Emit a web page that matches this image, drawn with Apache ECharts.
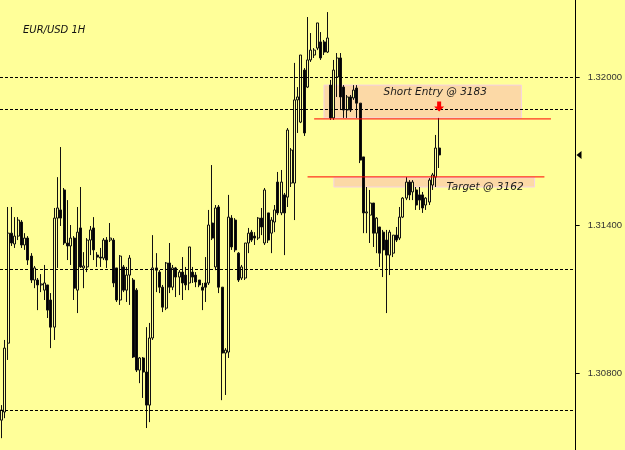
<!DOCTYPE html>
<html>
<head>
<meta charset="utf-8">
<script src="https://cdn.jsdelivr.net/npm/echarts@6/dist/echarts.min.js"></script>
<style>
html, body { margin: 0; padding: 0; background: #FFFF99; }
#chartmain { width: 625px; height: 450px; }
</style>
</head>
<body>
<div id="chartmain"></div>
<script>
// EUR/USD 1H, prices in pips of 1.xxxx (3183 = 1.3183)
var opens = [3060.9, 3064.2, 3092.1, 3136.7, 3132.3, 3135.5, 3141.2, 3131.9, 3134.7, 3127.4,
    3117.7, 3117.7, 3115.7, 3113.6, 3115.7, 3109.6, 3098.6, 3142.8, 3146.1, 3154.2,
    3132.7, 3131.5, 3134.7, 3113.6, 3138.8, 3122.6, 3123.0, 3133.9, 3138.8, 3127.8,
    3127.0, 3126.6, 3133.9, 3133.9, 3133.9, 3122.6, 3109.6, 3123.0, 3113.6, 3119.7,
    3117.7, 3113.6, 3081.2, 3086.1, 3080.4, 3067.0, 3094.2, 3122.6, 3120.9, 3114.8,
    3106.3, 3124.6, 3114.8, 3122.6, 3118.9, 3120.9, 3119.7, 3116.5, 3120.9, 3119.7,
    3117.7, 3114.8, 3116.5, 3116.5, 3140.8, 3123.0, 3147.3, 3114.8, 3088.1, 3088.5,
    3142.8, 3142.0, 3128.6, 3118.5, 3118.5, 3132.7, 3137.1, 3135.5, 3134.7, 3142.8,
    3132.7, 3144.9, 3136.7, 3141.2, 3157.4, 3144.9, 3152.2, 3151.3, 3157.0, 3157.0,
    3190.7, 3181.7, 3202.8, 3195.9, 3206.9, 3208.9, 3211.7, 3214.2, 3214.2, 3210.1,
    3196.7, 3183.4, 3200.0, 3207.7, 3195.9, 3186.6, 3191.9, 3191.5, 3195.5, 3189.4,
    3167.6, 3144.9, 3144.0, 3148.9, 3136.7, 3139.2, 3137.1, 3133.9, 3127.8, 3128.6,
    3135.9, 3134.7, 3143.2, 3150.9, 3157.4, 3153.4, 3154.2, 3152.2, 3152.2, 3148.1,
    3149.3, 3156.2, 3159.4, 3171.2];
var closes = [3065.0, 3090.1, 3136.7, 3132.7, 3135.5, 3142.0, 3131.9, 3134.7, 3125.8, 3117.7,
    3122.6, 3115.7, 3116.1, 3116.5, 3105.5, 3098.6, 3142.8, 3146.9, 3142.8, 3132.7,
    3131.5, 3134.7, 3114.4, 3137.1, 3123.0, 3123.4, 3133.9, 3138.0, 3129.9, 3127.0,
    3126.6, 3133.9, 3125.8, 3134.7, 3116.5, 3109.6, 3127.4, 3113.6, 3119.7, 3126.6,
    3086.5, 3081.2, 3086.1, 3080.4, 3067.0, 3094.2, 3122.6, 3121.7, 3114.8, 3106.7,
    3124.6, 3114.8, 3122.6, 3118.9, 3120.9, 3116.5, 3115.7, 3131.1, 3118.9, 3116.9,
    3115.7, 3113.6, 3114.8, 3140.0, 3134.7, 3146.9, 3114.8, 3088.1, 3089.3, 3143.2,
    3131.1, 3129.9, 3117.7, 3123.0, 3132.7, 3136.7, 3133.9, 3134.7, 3142.8, 3139.2,
    3154.2, 3133.9, 3142.0, 3146.1, 3144.9, 3157.4, 3144.9, 3178.5, 3170.4, 3190.7,
    3191.9, 3208.9, 3177.3, 3206.9, 3210.9, 3210.9, 3221.9, 3207.7, 3210.1, 3215.8,
    3183.4, 3202.8, 3207.7, 3191.9, 3186.6, 3191.9, 3186.6, 3194.7, 3189.4, 3166.3,
    3144.9, 3145.3, 3148.9, 3136.7, 3142.8, 3128.6, 3129.9, 3127.8, 3137.1, 3135.9,
    3133.9, 3143.2, 3150.9, 3157.4, 3152.2, 3157.4, 3148.1, 3150.1, 3146.9, 3150.9,
    3158.2, 3160.3, 3171.2, 3168.4];
var lows = [3053.6, 3061.7, 3085.3, 3131.5, 3130.7, 3133.9, 3130.7, 3129.9, 3123.8, 3116.5,
    3114.4, 3105.5, 3112.8, 3109.6, 3102.3, 3090.1, 3093.4, 3122.6, 3139.6, 3131.9,
    3125.8, 3123.8, 3109.6, 3104.3, 3122.6, 3114.4, 3120.9, 3127.8, 3125.8, 3123.0,
    3123.0, 3125.8, 3122.6, 3133.1, 3114.8, 3108.8, 3107.6, 3112.8, 3108.8, 3107.6,
    3086.1, 3080.4, 3075.9, 3069.9, 3057.7, 3060.1, 3093.4, 3112.8, 3112.4, 3104.7,
    3105.5, 3112.4, 3113.6, 3110.8, 3111.6, 3109.6, 3113.6, 3113.6, 3116.5, 3114.8,
    3114.8, 3105.5, 3108.8, 3115.7, 3133.9, 3121.7, 3112.4, 3069.0, 3071.1, 3086.1,
    3129.9, 3129.0, 3116.9, 3117.7, 3117.7, 3128.6, 3133.1, 3131.9, 3133.9, 3135.9,
    3131.9, 3132.7, 3128.6, 3137.1, 3144.0, 3144.0, 3127.8, 3147.3, 3155.4, 3142.0,
    3177.3, 3181.3, 3176.1, 3195.5, 3206.1, 3207.7, 3210.9, 3206.9, 3208.9, 3209.7,
    3182.6, 3182.6, 3191.9, 3186.6, 3183.4, 3183.4, 3185.8, 3190.7, 3183.4, 3165.1,
    3136.7, 3136.7, 3132.7, 3131.1, 3128.6, 3123.0, 3118.9, 3104.3, 3119.7, 3127.0,
    3133.1, 3133.9, 3142.8, 3150.1, 3150.1, 3150.1, 3146.1, 3146.1, 3144.9, 3146.1,
    3148.1, 3154.2, 3155.4, 3163.1];
var highs = [3067.0, 3093.4, 3147.3, 3147.3, 3143.2, 3143.2, 3142.0, 3136.7, 3135.5, 3128.6,
    3123.4, 3118.5, 3120.1, 3123.8, 3115.7, 3112.4, 3146.9, 3159.4, 3171.6, 3155.0,
    3150.1, 3140.0, 3135.5, 3147.3, 3155.4, 3129.0, 3134.7, 3139.6, 3143.2, 3129.0,
    3130.7, 3134.7, 3135.1, 3140.8, 3134.7, 3122.6, 3127.8, 3123.8, 3123.0, 3127.8,
    3118.5, 3114.4, 3086.5, 3086.5, 3098.6, 3100.3, 3135.9, 3128.6, 3121.7, 3115.7,
    3125.0, 3132.7, 3123.8, 3123.0, 3121.7, 3127.0, 3123.0, 3131.1, 3123.0, 3120.9,
    3117.7, 3116.5, 3127.0, 3146.1, 3164.3, 3148.1, 3148.1, 3114.8, 3090.1, 3152.2,
    3144.0, 3142.8, 3129.0, 3123.8, 3132.7, 3138.8, 3138.0, 3137.1, 3143.2, 3146.9,
    3155.0, 3144.9, 3143.2, 3148.1, 3161.5, 3162.3, 3153.0, 3179.3, 3171.2, 3205.7,
    3195.9, 3208.9, 3203.6, 3224.3, 3217.8, 3211.7, 3221.9, 3218.2, 3215.0, 3226.3,
    3198.8, 3206.9, 3209.7, 3209.7, 3196.7, 3192.7, 3192.7, 3196.7, 3196.7, 3189.4,
    3167.6, 3155.4, 3154.2, 3148.9, 3143.2, 3139.2, 3138.0, 3138.0, 3138.0, 3135.9,
    3139.2, 3147.3, 3151.3, 3159.4, 3158.2, 3158.2, 3155.4, 3155.4, 3153.4, 3151.3,
    3159.0, 3161.1, 3176.5, 3183.4];

// horizontal levels
var dottedLevels = [3200.0, 3187.0, 3122.0, 3065.0];
var entryLevel = 3183;
var targetLevel = 3159.5;
var axisTicks = [3080, 3140, 3200];
var slotCount = 175;   // visible bar slots incl. empty space on the right

function setChartMain() {
    var categories = [];
    for (var i = 0; i < slotCount; i++) {
        categories.push(i);
    }
    var candles = opens.map(function (o, i) {
        return [o, closes[i], lows[i], highs[i]];
    });
    var last = opens.length - 1;

    var labelFont = { fontFamily: 'DejaVu Sans', fontStyle: 'italic', fontSize: 10.5, color: '#1a1a1a' };

    // red horizontal trade lines, drawn as plain line series
    function tradeLine(level, from, to) {
        return {
            type: 'line',
            data: [[from, level], [to, level]],
            symbol: 'none',
            silent: true,
            z: 4,
            itemStyle: { color: '#FF0000' },
            lineStyle: { color: '#FF0000', width: 1 }
        };
    }

    var option = {
        backgroundColor: '#FFFF99',
        animation: false,
        title: {
            text: 'EUR/USD 1H',
            left: 18,
            top: 20,
            textStyle: { fontFamily: 'DejaVu Sans', fontStyle: 'italic', fontWeight: 'normal', fontSize: 10, color: '#111' }
        },
        grid: { left: 0, right: 49, top: 0, bottom: 0 },
        xAxis: {
            type: 'category',
            data: categories,
            boundaryGap: true,
            axisLine: { show: false },
            axisTick: { show: false },
            axisLabel: { show: false },
            splitLine: { show: false }
        },
        yAxis: {
            type: 'value',
            position: 'right',
            min: 3048.8,
            max: 3231.2,
            axisLine: { show: true, lineStyle: { color: '#000', width: 1 } },
            axisTick: { show: true, customValues: axisTicks, length: 4, lineStyle: { color: '#000' } },
            axisLabel: {
                customValues: axisTicks,
                margin: 12,
                fontFamily: 'Liberation Sans',
                fontSize: 9.5,
                color: '#333',
                formatter: function (v) { return (1 + v / 10000).toFixed(5); }
            },
            splitLine: { show: false }
        },
        series: [{
            type: 'candlestick',
            data: candles,
            barWidth: 2.5,
            itemStyle: {
                color: '#FFFF99',
                color0: '#000',
                borderColor: '#111',
                borderColor0: '#111',
                borderWidth: 1
            },
            markLine: {
                silent: true,
                symbol: 'none',
                label: { show: false },
                lineStyle: { color: '#000', width: 1, type: [3, 2] },
                data: dottedLevels.map(function (v) { return { yAxis: v }; })
            },
            markArea: {
                silent: true,
                data: [
                    [{
                        coord: [97.7, 3196.7],
                        itemStyle: { color: '#FCD9A6', borderColor: '#F6D2E4', borderWidth: 1 },
                        label: Object.assign({ show: true, position: [60, 2], formatter: 'Short Entry @ 3183' }, labelFont)
                    }, { coord: [157.6, 3183.4] }],
                    [{
                        coord: [100.7, 3159.2],
                        itemStyle: { color: '#FCD9A6', borderColor: '#F6D2E4', borderWidth: 1 },
                        label: Object.assign({ show: true, position: [113, 5], formatter: 'Target @ 3162' }, labelFont)
                    }, { coord: [161.5, 3155.4] }]
                ]
            },
            markPoint: {
                silent: true,
                label: { show: false },
                data: [{
                    coord: [last, 3188],
                    symbol: 'path://M3,0 L7,0 L7,5 L10,5 L5,10 L0,5 L3,5 Z',
                    symbolSize: [10, 10],
                    itemStyle: { color: '#FF0000' }
                }, {
                    // current price marker on the price scale
                    coord: [slotCount - 1, closes[last]],
                    symbol: 'path://M10,0 L10,10 L0,5 Z',
                    symbolSize: [5, 8],
                    symbolOffset: [5, 0],
                    itemStyle: { color: '#000' }
                }]
            }
        },
        tradeLine(entryLevel, 94.6, 167.2),
        tradeLine(targetLevel, 92.5, 165.1)]
    };
    var myChart = echarts.init(document.getElementById('chartmain'));
    myChart.setOption(option);
}
setChartMain();
</script>
</body>
</html>
